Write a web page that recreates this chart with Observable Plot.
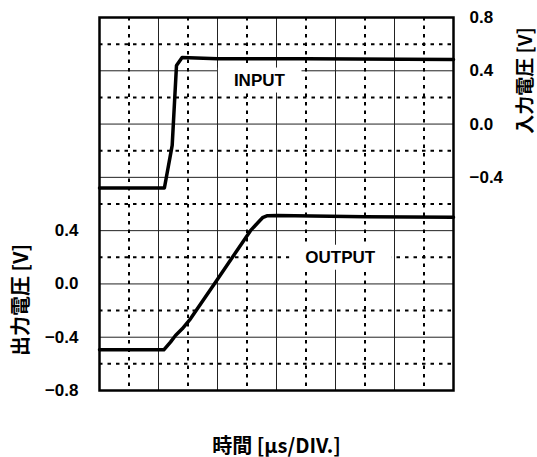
<!DOCTYPE html>
<html><head><meta charset="utf-8">
<script src="https://cdn.jsdelivr.net/npm/d3@7"></script>
<script src="https://cdn.jsdelivr.net/npm/@observablehq/plot@0.6"></script>
<style>html,body{margin:0;padding:0;background:#fff;}</style>
</head><body><div id="chart"></div>
<script>
// time in divisions
const inputT = [0, 1.10, 1.232, 1.305, 1.40, 2.0, 3.5, 6.0];
const inputV = [-0.48, -0.48, -0.16, 0.44, 0.50, 0.49, 0.49, 0.485];
const outputT = [0, 1.09, 1.203, 1.288, 1.402, 1.542, 1.966, 2.559, 2.695, 2.763, 2.847, 3.017, 4.5, 6.0];
const outputV = [-0.495, -0.495, -0.437, -0.387, -0.337, -0.262, 0.013, 0.40, 0.465, 0.497, 0.512, 0.514, 0.505, 0.50];
const outputTicks = [-0.8, -0.4, 0.0, 0.4];
const inputTicks = [-0.4, 0.0, 0.4, 0.8];
const outDomain = [-0.8, 2.0];
const inDomain = [-2.0, 0.8];
const xDomain = [0, 6];
const xTitle = "時間 [μs/DIV.]";
const outTitle = "出力電圧 [V]";
const inTitle = "入力電圧 [V]";
const labelInput = "INPUT", labelOutput = "OUTPUT";

const offset = outDomain[1] - inDomain[1];
const fmt = d3.format(".1f");
const inputData = inputT.map((t, i) => ({t, v: inputV[i]}));
const outputData = outputT.map((t, i) => ({t, v: outputV[i]}));
const majorX = d3.range(1, 6);
const minorX = d3.range(0.5, 6, 1);
const majorY = d3.range(1, 7).map(k => outDomain[0] + 0.4 * k);
const minorY = d3.range(0, 7).map(k => outDomain[0] + 0.2 + 0.4 * k);

const latin = "'Liberation Sans', Arial, sans-serif";
const cjk = "'Noto Sans CJK JP', sans-serif";

const chart = Plot.plot({
  width: 537, height: 457,
  marginLeft: 99, marginRight: 84, marginTop: 17, marginBottom: 67,
  style: {fontFamily: latin, fontWeight: "bold", fontSize: "17px", background: "#fff"},
  x: {domain: xDomain, axis: null},
  y: {domain: outDomain},
  marks: [
    Plot.ruleX(majorX, {stroke: "#222", strokeWidth: 1}),
    Plot.ruleY(majorY, {stroke: "#222", strokeWidth: 1}),
    Plot.ruleX(minorX, {stroke: "#000", strokeWidth: 2, strokeDasharray: "3.5,5"}),
    Plot.ruleY(minorY, {stroke: "#000", strokeWidth: 2, strokeDasharray: "3.5,5"}),
    Plot.text([{t: 2.71, v: 0.33 + offset, s: labelInput}, {t: 4.08, v: 0.2, s: labelOutput}],
      {x: "t", y: "v", text: "s", fontSize: 17, fontWeight: "bold", fontFamily: latin, fill: "#000"}),
    Plot.line(inputData, {x: "t", y: d => d.v + offset, stroke: "#000", strokeWidth: 3.5}),
    Plot.line(outputData, {x: "t", y: "v", stroke: "#000", strokeWidth: 3.5}),
    Plot.frame({stroke: "#000", strokeWidth: 2.5}),
    Plot.axisY(outputTicks, {anchor: "left", tickSize: 0, tickPadding: 21, tickFormat: fmt, label: null,
      fontSize: 17, fontWeight: "bold", fill: "#000"}),
    Plot.axisY(inputTicks.map(v => v + offset), {anchor: "right", tickSize: 0, tickPadding: 16,
      tickFormat: v => fmt(v - offset), label: null, fontSize: 17, fontWeight: "bold", fill: "#000"}),
    Plot.text([xTitle], {text: d => d, frameAnchor: "bottom", textAnchor: "middle", dy: 62, fontFamily: cjk, fontSize: 20, fontWeight: "bold", fill: "#000"}),
    Plot.text([outTitle], {text: d => d, frameAnchor: "left", textAnchor: "middle", dx: -78, dy: 96, rotate: -90, fontFamily: cjk, fontSize: 20, fontWeight: "bold", fill: "#000"}),
    Plot.text([inTitle], {text: d => d, frameAnchor: "right", textAnchor: "middle", dx: 72, dy: -123.5, rotate: -90, fontFamily: cjk, fontSize: 19, fontWeight: "bold", fill: "#000"})
  ]
});
document.getElementById("chart").append(chart);
d3.select(chart).selectAll("text")
  .filter(function() { return this.textContent === labelInput || this.textContent === labelOutput; })
  .each(function() {
    const b = this.getBBox();
    const padX = 16, padY = 3;
    const r = document.createElementNS("http://www.w3.org/2000/svg", "rect");
    r.setAttribute("x", b.x - padX);
    r.setAttribute("y", b.y - padY);
    r.setAttribute("width", b.width + 2 * padX);
    r.setAttribute("height", b.height + 2 * padY);
    r.setAttribute("fill", "#fff");
    const tr = this.getAttribute("transform");
    if (tr) r.setAttribute("transform", tr);
    this.parentNode.insertBefore(r, this);
  });
</script>
</body></html>
